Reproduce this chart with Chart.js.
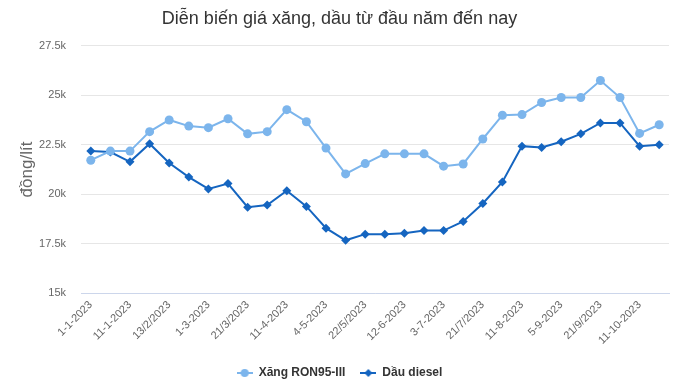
<!DOCTYPE html>
<html>
<head>
<meta charset="utf-8">
<script src="https://cdn.jsdelivr.net/npm/chart.js@4/dist/chart.umd.min.js"></script>
<style>
  html, body { margin: 0; padding: 0; background: #ffffff; }
  #wrap { width: 678px; height: 384px; position: relative; }
</style>
</head>
<body>
<div id="wrap"><canvas id="c" width="678" height="384"></canvas></div>
<script>
const chartTitle = 'Diễn biến giá xăng, dầu từ đầu năm đến nay';
const yAxisTitle = 'đồng/lít';
const categories = [
  '1-1-2023', '3-1-2023', '11-1-2023', '1-2-2023', '13/2/2023', '21/2/2023',
  '1-3-2023', '13/3/2023', '21/3/2023', '3-4-2023', '11-4-2023', '21/4/2023',
  '4-5-2023', '11-5-2023', '22/5/2023', '1-6-2023', '12-6-2023', '21/6/2023',
  '3-7-2023', '11-7-2023', '21/7/2023', '1-8-2023', '11-8-2023', '21/8/2023',
  '5-9-2023', '11-9-2023', '21/9/2023', '2-10-2023', '11-10-2023', '23/10/2023'
];
const seriesNames = ['Xăng RON95-III', 'Dầu diesel'];
const ron95 = [
  21720, 22180, 22180, 23160, 23750, 23440, 23360, 23810, 23050, 23160,
  24270, 23660, 22330, 21030, 21550, 22040, 22040, 22040, 21420, 21530,
  22790, 23990, 24020, 24630, 24880, 24880, 25740, 24880, 23070, 23510
];
const diesel = [
  22180, 22130, 21640, 22550, 21580, 20870, 20270, 20540, 19350, 19460,
  20180, 19390, 18290, 17680, 17990, 17990, 18040, 18170, 18170, 18630,
  19540, 20620, 22430, 22360, 22650, 23050, 23600, 23600, 22430, 22500
];
const yTicks = [15000, 17500, 20000, 22500, 25000, 27500];

const colLight = '#7cb5ec';
const colDark = '#1565c0';
const FONT = '"Liberation Sans", Arial, Helvetica, sans-serif';

function legendIcon(color, shape) {
  const c = document.createElement('canvas');
  c.width = 16; c.height = 12;
  const g = c.getContext('2d');
  g.strokeStyle = color; g.lineWidth = 2;
  g.beginPath(); g.moveTo(0, 6); g.lineTo(16, 6); g.stroke();
  g.fillStyle = color;
  g.beginPath();
  if (shape === 'circle') {
    g.arc(8, 6, 4, 0, Math.PI * 2);
  } else {
    g.moveTo(8, 2); g.lineTo(12, 6); g.lineTo(8, 10); g.lineTo(4, 6); g.closePath();
  }
  g.fill();
  return c;
}
const icons = [legendIcon(colLight, 'circle'), legendIcon(colDark, 'diamond')];

new Chart(document.getElementById('c'), {
  type: 'line',
  data: {
    labels: categories,
    datasets: [
      {
        label: seriesNames[0], data: ron95,
        borderColor: colLight, backgroundColor: colLight,
        borderWidth: 2, pointStyle: 'circle', pointRadius: 4.5,
        pointBorderWidth: 0, tension: 0
      },
      {
        label: seriesNames[1], data: diesel,
        borderColor: colDark, backgroundColor: colDark,
        borderWidth: 2, pointStyle: 'rectRot', pointRadius: 4.5,
        pointBorderWidth: 0, tension: 0
      }
    ]
  },
  options: {
    responsive: false,
    animation: false,
    devicePixelRatio: 1,
    layout: { padding: { left: 10, right: 9, top: 0, bottom: -5 } },
    plugins: {
      title: {
        display: true, text: chartTitle, color: '#333333',
        font: { family: FONT, size: 18, weight: 'normal' },
        padding: { top: 8, bottom: 16 }
      },
      legend: {
        position: 'bottom',
        labels: {
          color: '#333333',
          font: { family: FONT, size: 12, weight: 'bold' },
          usePointStyle: true, pointStyleWidth: 16, padding: 15,
          generateLabels(chart) {
            const items = Chart.defaults.plugins.legend.labels.generateLabels(chart);
            items.forEach((it, i) => { it.pointStyle = icons[i]; });
            return items;
          }
        }
      },
      tooltip: { enabled: false }
    },
    scales: {
      x: {
        offset: true,
        grid: { display: false, drawTicks: false },
        border: { display: true, color: '#ccd6eb', width: 1 },
        ticks: {
          autoSkip: false, minRotation: 45, maxRotation: 45, padding: 5,
          color: '#666666', font: { family: FONT, size: 11 },
          callback(v, i) { return i % 2 === 0 ? categories[i] : ''; }
        }
      },
      y: {
        min: yTicks[0], max: yTicks[yTicks.length - 1],
        afterBuildTicks(axis) { axis.ticks = yTicks.map(v => ({ value: v })); },
        afterFit(axis) { axis.width = 71; },
        grid: { color: '#e6e6e6', drawTicks: false },
        border: { display: false },
        title: {
          display: true, text: yAxisTitle, color: '#666666',
          font: { family: FONT, size: 17 }, padding: { top: 7, bottom: 0 }
        },
        ticks: {
          padding: 15, color: '#666666', font: { family: FONT, size: 11 },
          callback(v) { return (v / 1000) + 'k'; }
        }
      }
    }
  }
});
</script>
</body>
</html>
